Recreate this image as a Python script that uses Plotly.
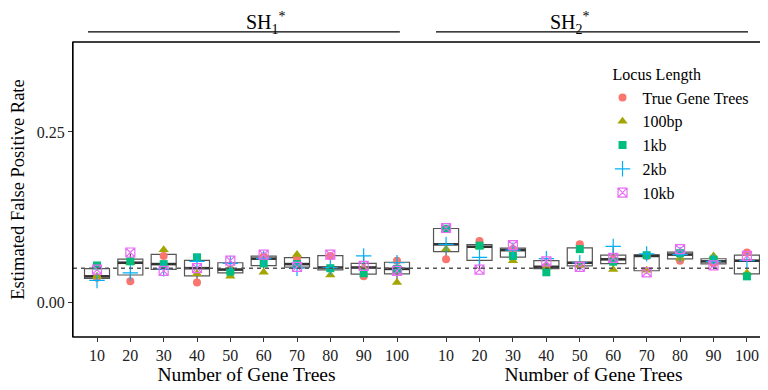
import numpy as np
import plotly.graph_objects as go

# ---------------- data ----------------
categories = [10, 20, 30, 40, 50, 60, 70, 80, 90, 100]
tick_labels = [str(c) for c in categories]
locus_names = ["True Gene Trees", "100bp", "1kb", "2kb", "10kb"]
panel_titles = ["SH<sub>1</sub><sup>*</sup>", "SH<sub>2</sub><sup>*</sup>"]
nominal_rate = 0.05

sh1_true = [0.036, 0.031, 0.068, 0.029, 0.048, 0.067, 0.064, 0.068, 0.038, 0.061]
sh1_100bp = [0.038, 0.058, 0.077, 0.042, 0.038, 0.044, 0.070, 0.040, 0.051, 0.029]
sh1_1kb = [0.054, 0.060, 0.056, 0.066, 0.045, 0.057, 0.056, 0.050, 0.0425, 0.049]
sh1_2kb = [0.032, 0.043, 0.049, 0.060, 0.057, 0.064, 0.050, 0.051, 0.068, 0.058]
sh1_10kb = [0.048, 0.073, 0.046, 0.050, 0.061, 0.070, 0.052, 0.070, 0.0535, 0.046]

sh2_true = [0.063, 0.090, 0.078, 0.052, 0.085, 0.063, 0.068, 0.061, 0.057, 0.073]
sh2_100bp = [0.078, 0.0815, 0.061, 0.051, 0.054, 0.048, 0.047, 0.0645, 0.068, 0.043]
sh2_1kb = [0.108, 0.083, 0.068, 0.044, 0.078, 0.0595, 0.069, 0.072, 0.0625, 0.038]
sh2_2kb = [0.085, 0.066, 0.0765, 0.064, 0.058, 0.082, 0.071, 0.070, 0.060, 0.061]
sh2_10kb = [0.109, 0.048, 0.084, 0.060, 0.052, 0.065, 0.044, 0.078, 0.054, 0.068]

# ---------------- styles ----------------
colors = ["#F8766D", "#A3A500", "#00BF7D", "#00B0F6", "#E76BF3"]
symbols = ["circle", "triangle-up", "square", "cross-thin-open", "square-x-open"]
sizes = [8, 9, 8, 11, 9]
FONT = "Liberation Serif, Times New Roman, serif"

panels = [
    [sh1_true, sh1_100bp, sh1_1kb, sh1_2kb, sh1_10kb],
    [sh2_true, sh2_100bp, sh2_1kb, sh2_2kb, sh2_10kb],
]
xrefs = ["x", "x2"]

fig = go.Figure()
pos = np.arange(len(categories))
box_w = 0.75
half = box_w / 2

for p, series in enumerate(panels):
    xa = xrefs[p]
    allx = np.tile(pos, len(series))
    ally = np.concatenate([np.array(s) for s in series])
    fig.add_trace(go.Box(
        x=allx, y=ally, xaxis=xa, yaxis="y", width=box_w,
        boxpoints=False, quartilemethod="linear",
        fillcolor="rgba(255,255,255,0)",
        line=dict(color="#555555", width=1.2),
        whiskerwidth=0, showlegend=False, hoverinfo="skip",
    ))
    # thick median bars (computed from the data)
    med = np.median(np.array(series), axis=0)
    mx, my = [], []
    for i, m in zip(pos, med):
        mx += [i - half, i + half, None]
        my += [m, m, None]
    fig.add_trace(go.Scatter(x=mx, y=my, xaxis=xa, yaxis="y", mode="lines",
                             line=dict(color="#333333", width=2.6),
                             showlegend=False, hoverinfo="skip"))
    for k, s in enumerate(series):
        open_sym = symbols[k].endswith("open")
        fig.add_trace(go.Scatter(
            x=pos, y=s, xaxis=xa, yaxis="y", mode="markers",
            name=locus_names[k], legendgroup=locus_names[k],
            showlegend=(p == 0),
            marker=dict(symbol=symbols[k], color=colors[k], size=sizes[k],
                        line=dict(color=colors[k], width=1.2 if open_sym else 0)),
        ))

# nominal-rate dashed line
fig.add_shape(type="line", xref="paper", yref="y", x0=0, x1=1,
              y0=nominal_rate, y1=nominal_rate,
              line=dict(color="#555555", width=1.4, dash="4px,4px"), layer="above")
# panel frame
fig.add_shape(type="rect", xref="paper", yref="paper", x0=0, x1=1, y0=0, y1=1,
              line=dict(color="black", width=1.3))

# strip titles and lines
strip = [(0.0216, 0.471), (0.523, 0.9726)]
for (a, b), t in zip(strip, panel_titles):
    fig.add_shape(type="line", xref="paper", yref="paper", x0=a, x1=b,
                  y0=1.034, y1=1.034, line=dict(color="black", width=1.2))
    fig.add_annotation(text=t, xref="paper", yref="paper", x=(a + b) / 2, y=1.066,
                       showarrow=False, font=dict(family=FONT, size=20, color="black"),
                       yanchor="middle")

xcommon = dict(tickvals=list(pos), ticktext=tick_labels, ticks="outside", ticklen=4,
               tickcolor="#333333", showgrid=False, zeroline=False, showline=False,
               automargin=False,
               tickfont=dict(family=FONT, size=16, color="#222222"),
               title=dict(text="Number of Gene Trees",
                          font=dict(family=FONT, size=19.5, color="black"), standoff=4))

# page body adds 8px offset in the browser, so the figure is 8px smaller
fig.update_layout(
    width=760, height=382,
    margin=dict(l=65, r=1, t=34, b=53, autoexpand=False),
    paper_bgcolor="white", plot_bgcolor="white",
    xaxis=dict(domain=[0, 0.5], range=[-0.72, 9.69], anchor="y", **xcommon),
    xaxis2=dict(domain=[0.5, 1], range=[-0.78, 9.6], anchor="y", **xcommon),
    yaxis=dict(range=[-0.051, 0.382], tickvals=[0, 0.25], ticktext=["0.00", "0.25"],
               ticks="outside", ticklen=4, tickcolor="#333333",
               showline=True, linecolor="black", linewidth=1.3,
               showgrid=False, zeroline=False, automargin=False,
               tickfont=dict(family=FONT, size=16, color="#222222"),
               title=dict(text="Estimated False Positive Rate",
                          font=dict(family=FONT, size=18.5, color="black"), standoff=8)),
    legend=dict(x=0.763, y=0.94, xanchor="left", yanchor="top",
                bgcolor="rgba(0,0,0,0)",
                title=dict(text="\u00a0\u00a0Locus Length",
                           font=dict(family=FONT, size=16, color="black")),
                font=dict(family=FONT, size=16, color="black"),
                tracegroupgap=0, itemwidth=30),
    showlegend=True,
)

fig.write_html("out.html")
